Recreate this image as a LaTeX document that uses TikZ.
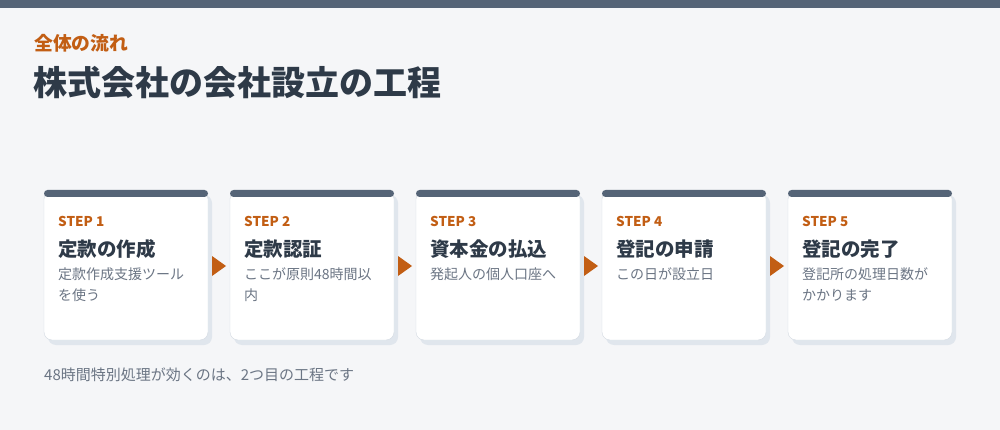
\documentclass[tikz,border=0pt]{standalone}
\usepackage{fontspec}
\setmainfont{Noto Sans CJK JP}
\usetikzlibrary{positioning}
\definecolor{bg}{HTML}{F5F6F8}
\definecolor{bar}{HTML}{556477}
\definecolor{acc}{HTML}{C25E14}
\definecolor{dark}{HTML}{2E3A48}
\definecolor{gray}{HTML}{6B7584}
\definecolor{shadowc}{HTML}{E0E6ED}
\definecolor{border}{HTML}{D3DAE2}
\tikzset{
  x=1pt,y=-1pt,
  steplbl/.style={anchor=west,inner sep=0,text=acc,font=\fontsize{13.5}{15}\selectfont\bfseries},
  steptitle/.style={anchor=west,inner sep=0,text=dark,font=\fontsize{19.5}{22}\selectfont\bfseries},
  stepdesc/.style={anchor=north west,inner sep=0,text=gray,align=left,font=\fontsize{14}{21}\selectfont},
  arr/.style={fill=acc,draw=none},
}
\begin{document}
\begin{tikzpicture}
\useasboundingbox (0,0) rectangle (1000,430);
\fill[bg] (0,0) rectangle (1000,430);
\fill[bar] (0,0) rectangle (1000,8);
\node[anchor=west,inner sep=0,text=acc,font=\fontsize{18.8}{20}\selectfont\bfseries] (sub) at (34,43) {全体の流れ};
\node[anchor=west,inner sep=0,text=dark,font=\fontsize{34}{38}\selectfont\bfseries] (title) at (33,83) {株式会社の会社設立の工程};
\foreach \i/\t/\d [count=\n from 0] in {1/定款の作成/{定款作成支援ツール\\を使う},2/定款認証/{ここが原則48時間以\\内},3/資本金の払込/{発起人の個人口座へ},4/登記の申請/{この日が設立日},5/登記の完了/{登記所の処理日数が\\かかります}}{
  \pgfmathsetmacro{\xx}{44+186*\n}
  \fill[shadowc,rounded corners=8] (\xx+4,195) rectangle (\xx+168,345);
  \draw[border,fill=white,rounded corners=8] (\xx,191) rectangle (\xx+164,340);
  \fill[bar,rounded corners=3.5] (\xx,190) rectangle (\xx+164,197);
  \node[steplbl] (s\i) at (\xx+14,221) {STEP \i};
  \node[steptitle] (t\i) at (\xx+14,249) {\t};
  \node[stepdesc] (d\i) at (\xx+14,267.5) {\d};
}
\foreach \n in {0,...,3}{
  \pgfmathsetmacro{\ax}{212+186*\n}
  \fill[arr] (\ax,256) -- (\ax+14,266) -- (\ax,276) -- cycle;
}
\node[anchor=west,inner sep=0,text=gray,font=\fontsize{15}{17}\selectfont] (foot) at (44,375) {48時間特別処理が効くのは、2つ目の工程です};
\end{tikzpicture}
\end{document}
